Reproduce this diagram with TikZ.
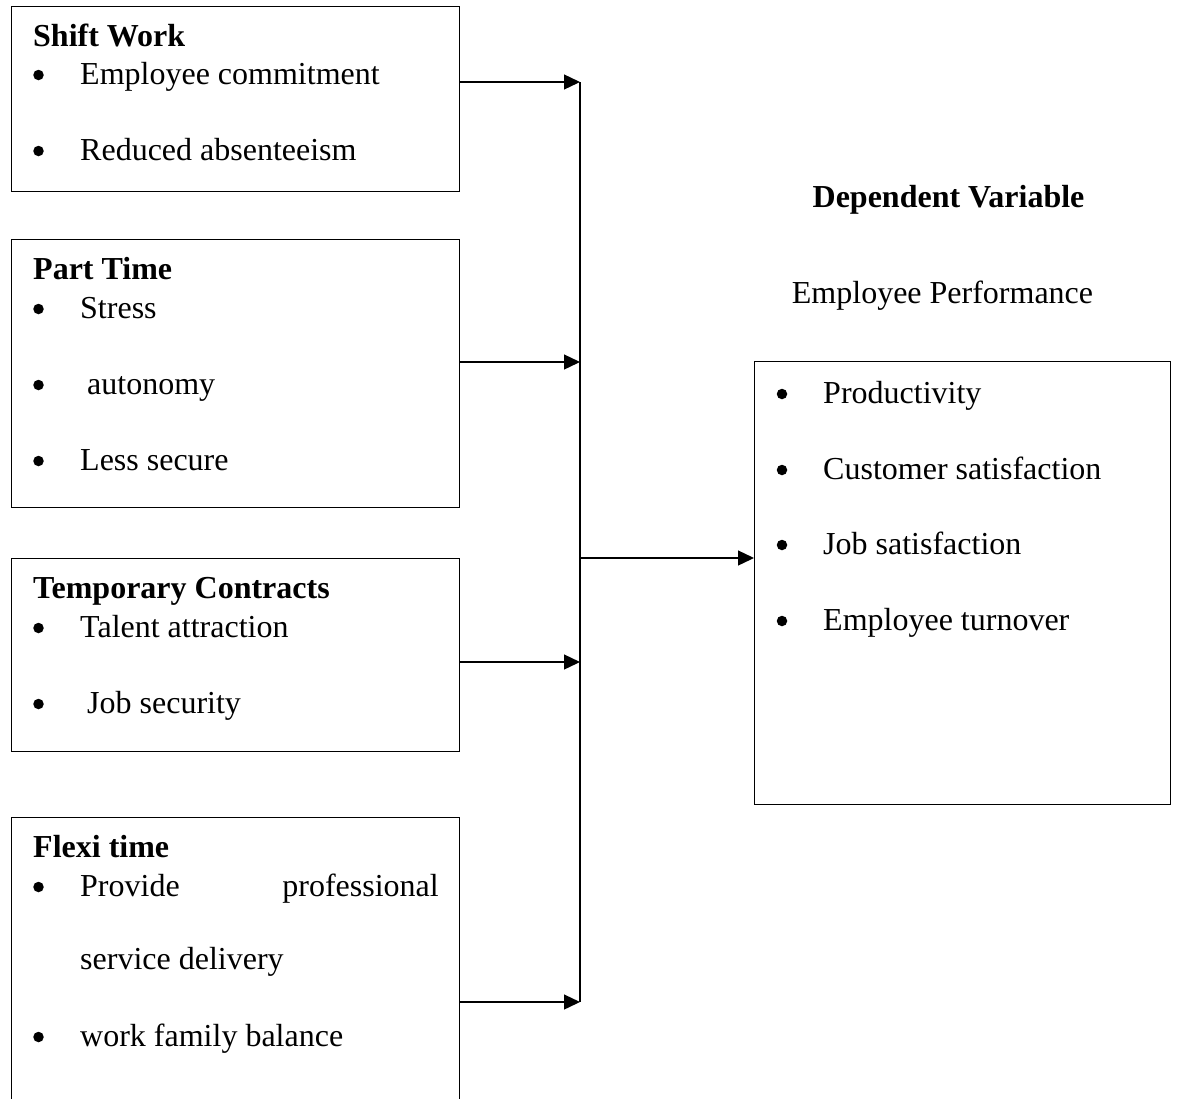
\documentclass[tikz,border=0pt]{standalone}
\usepackage{fontspec}
\setmainfont{Liberation Serif}
\usetikzlibrary{arrows.meta}
\begin{document}
\begin{tikzpicture}[x=1pt,y=-1pt,
  box/.style={draw, line width=1.3pt, inner sep=0pt, anchor=north west, minimum width=448pt},
  txt/.style={anchor=base west, inner sep=0pt, font=\fontsize{32}{38}\selectfont},
  ttl/.style={anchor=base west, inner sep=0pt, font=\fontsize{32}{38}\selectfont\bfseries},
  ctr/.style={anchor=base, inner sep=0pt, font=\fontsize{32}{38}\selectfont},
  bul/.style={circle, fill=black, inner sep=0pt, minimum size=10.5pt},
  conn/.style={line width=1.3pt},
  arr/.style={line width=1.3pt, -{Triangle[length=16pt,width=15pt]}}]
\useasboundingbox (0,0) rectangle (1177,1098);
\clip (0,0) rectangle (1177,1098);
% boxes
\node[box, minimum height=185pt] (shift) at (11,6) {};
\node[box, minimum height=268pt] (part) at (11,239) {};
\node[box, minimum height=193pt] (temp) at (11,558) {};
\node[box, minimum height=320pt] (flexi) at (11,817) {};
\node[box, minimum width=416pt, minimum height=443pt] (dep) at (754,361) {};
% Shift work
\node[ttl] (t1) at (33,46) {Shift Work};
\node[bul] (b11) at (38.5,75) {};
\node[txt] (s11) at (80,84) {Employee commitment};
\node[bul] (b12) at (38.5,151) {};
\node[txt] (s12) at (80,160) {Reduced absenteeism};
% Part time
\node[ttl] (t2) at (33,279) {Part Time};
\node[bul] (b21) at (38.5,309) {};
\node[txt] (s21) at (80,318) {Stress};
\node[bul] (b22) at (38.5,385) {};
\node[txt] (s22) at (87,394) {autonomy};
\node[bul] (b23) at (38.5,461) {};
\node[txt] (s23) at (80,470) {Less secure};
% Temporary contracts
\node[ttl] (t3) at (33,598) {Temporary Contracts};
\node[bul] (b31) at (38.5,628) {};
\node[txt] (s31) at (80,637) {Talent attraction};
\node[bul] (b32) at (38.5,704) {};
\node[txt] (s32) at (87,713) {Job security};
% Flexi time
\node[ttl] (t4) at (33,857) {Flexi time};
\node[bul] (b41) at (38.5,887) {};
\node[txt] (s41) at (80,896) {Provide};
\node[anchor=base east, inner sep=0pt, font=\fontsize{32}{38}\selectfont] (s41b) at (439,896) {professional};
\node[txt] (s42) at (80,969) {service delivery};
\node[bul] (b43) at (38.5,1037) {};
\node[txt] (s43) at (80,1046) {work family balance};
% Right side
\node[ctr, font=\fontsize{32}{38}\selectfont\bfseries] (dv) at (948.5,207) {Dependent Variable};
\node[ctr] (ep) at (942.5,303) {Employee Performance};
\node[bul] (r1b) at (782,394) {};
\node[txt] (r1) at (823,403) {Productivity};
\node[bul] (r2b) at (782,470) {};
\node[txt] (r2) at (823,479) {Customer satisfaction};
\node[bul] (r3b) at (782,545) {};
\node[txt] (r3) at (823,554) {Job satisfaction};
\node[bul] (r4b) at (782,621) {};
\node[txt] (r4) at (823,630) {Employee turnover};
% connectors
\coordinate (bt) at (580,82);
\coordinate (bp) at (580,362);
\coordinate (btc) at (580,662);
\coordinate (bb) at (580,1002);
\coordinate (bj) at (580,558);
\draw[conn] (bt) -- (bb);
\draw[arr] (shift.east |- bt) -- (bt);
\draw[arr] (part.east |- bp) -- (bp);
\draw[arr] (temp.east |- btc) -- (btc);
\draw[arr] (flexi.east |- bb) -- (bb);
\draw[arr] (bj) -- (dep.west |- bj);
\end{tikzpicture}
\end{document}
